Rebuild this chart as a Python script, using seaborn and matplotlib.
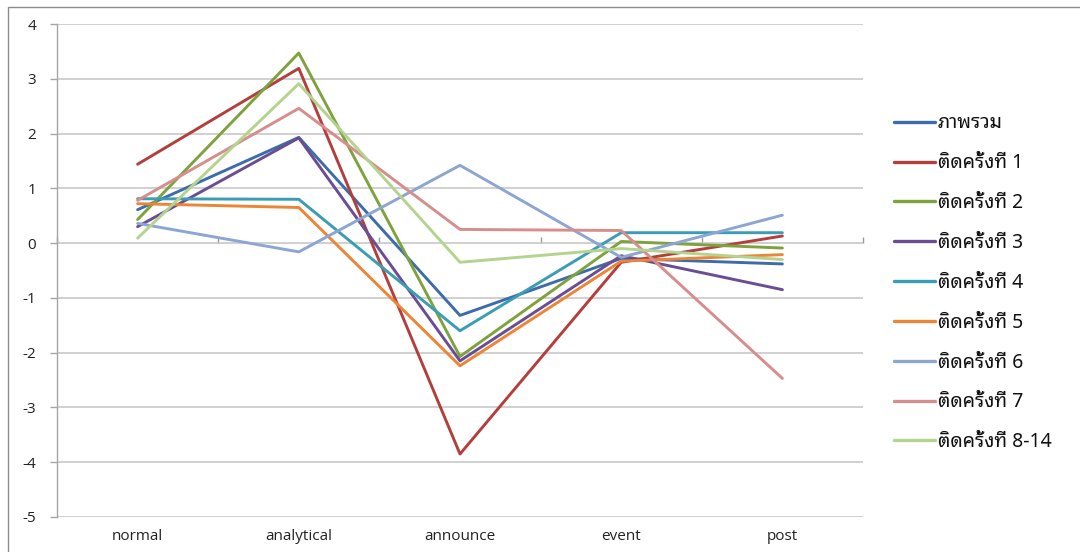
import numpy as np
import pandas as pd
import matplotlib
matplotlib.use("Agg")
import matplotlib.pyplot as plt
from matplotlib import font_manager as fm
from matplotlib.patches import Rectangle
import seaborn as sns

# Phases on the x axis
categories = ["normal", "analytical", "announce", "event", "post"]

# One series per group
overall = [0.61, 1.93, -1.32, -0.28, -0.38]
round_1 = [1.44, 3.19, -3.85, -0.35, 0.13]
round_2 = [0.43, 3.47, -2.07, 0.03, -0.09]
round_3 = [0.30, 1.92, -2.15, -0.23, -0.85]
round_4 = [0.81, 0.80, -1.60, 0.19, 0.19]
round_5 = [0.72, 0.65, -2.24, -0.33, -0.21]
round_6 = [0.36, -0.16, 1.42, -0.26, 0.51]
round_7 = [0.78, 2.46, 0.25, 0.23, -2.47]
round_8_14 = [0.09, 2.91, -0.35, -0.10, -0.30]

series_names = ["ภาพรวม", "ติดครั้งที่ 1", "ติดครั้งที่ 2", "ติดครั้งที่ 3",
                "ติดครั้งที่ 4", "ติดครั้งที่ 5", "ติดครั้งที่ 6", "ติดครั้งที่ 7",
                "ติดครั้งที่ 8-14"]
series_values = [overall, round_1, round_2, round_3, round_4, round_5,
                 round_6, round_7, round_8_14]
series_colors = ["#3E6CAA", "#B33F3C", "#7EA23E", "#6A4D92", "#3B9DB3",
                 "#EC8535", "#8DA6D1", "#D68E8C", "#B4D38E"]

y_ticks = [-5, -4, -3, -2, -1, 0, 1, 2, 3, 4]


def thai_family():
    """Return the name of an installed family that covers Thai script."""
    try:
        from fontTools.ttLib import TTFont
    except Exception:
        return None
    preferred = ["Tahoma", "Noto Sans Thai Looped", "Loma", "Garuda",
                 "Noto Sans Thai", "Norasi", "Kinnari", "Waree", "Umpush",
                 "Sawasdee"]
    found = {}
    for f in fm.fontManager.ttflist:
        if f.name in found:
            continue
        try:
            tt = TTFont(f.fname, fontNumber=0, lazy=True)
            cmap = tt.getBestCmap()
            if cmap and 0x0E20 in cmap and 0x0E31 in cmap and 0x0E48 in cmap:
                found[f.name] = f
        except Exception:
            continue
    for name in preferred:
        if name in found:
            return name
    return next(iter(found), None)


sns.set_theme(style="white")
plt.rcParams["font.family"] = ["Open Sans", "DejaVu Sans"]

thai = thai_family()
legend_family = [thai, "DejaVu Sans"] if thai else ["DejaVu Sans"]

rows = []
for name, vals in zip(series_names, series_values):
    for cat, v in zip(categories, vals):
        rows.append({"phase": cat, "value": v, "group": name})
df = pd.DataFrame(rows)

fig = plt.figure(figsize=(10.8, 5.52), dpi=100)
W, H = 1080, 552
ax = fig.add_axes([57 / W, 1 - 517 / H, (863 - 57) / W, (517 - 24) / H])

# Chart-area border
fig.patches.append(Rectangle((8 / W, -0.05), 1.2, 1 - 7 / H + 0.05,
                             transform=fig.transFigure, fill=False,
                             edgecolor="#8C8C8C", linewidth=1.0, zorder=0))

sns.lineplot(data=df, x="phase", y="value", hue="group",
             hue_order=series_names,
             palette=dict(zip(series_names, series_colors)),
             sort=False, linewidth=2.1, ax=ax, legend=True)

ax.set_xlim(-0.5, len(categories) - 0.5)
ax.set_ylim(-5, 4)
ax.set_yticks(y_ticks)
ax.set_yticklabels([str(t) for t in y_ticks])
ax.set_xlabel("")
ax.set_ylabel("")
ax.grid(axis="y", color="#C4C4C4", linewidth=1.1)
ax.grid(axis="x", visible=False)
ax.set_axisbelow(True)

for side in ["top", "right", "bottom"]:
    ax.spines[side].set_visible(False)
ax.spines["left"].set_color("#A6A6A6")
ax.spines["left"].set_linewidth(1.0)

ax.tick_params(axis="y", which="both", left=True, length=5, width=1,
               color="#A6A6A6", labelsize=11, labelcolor="#222222", pad=10)
ax.tick_params(axis="x", bottom=False, labelsize=11, labelcolor="#222222",
               pad=3)

# Category axis crossing at zero, with tick marks between categories
zero_frac = (0 - (-5)) / (4 - (-5))
sec = ax.secondary_xaxis(zero_frac)
sec.set_xticks(np.arange(-0.5, len(categories), 1.0))
sec.tick_params(axis="x", direction="out", length=4, width=1,
                color="#9A9A9A", labelbottom=False, labeltop=False)
sec.spines["bottom"].set_color("#9A9A9A")
sec.spines["bottom"].set_linewidth(1.1)
for s in ["top", "left", "right"]:
    sec.spines[s].set_visible(False)

handles, labels = ax.get_legend_handles_labels()
leg = ax.legend(handles, labels, loc="upper left",
                bbox_to_anchor=(876 / W, 1 - 96 / H),
                bbox_transform=fig.transFigure,
                frameon=False, handlelength=2.15, handletextpad=0.14,
                labelspacing=1.02,
                prop={"family": legend_family, "size": 14})
for line in leg.get_lines():
    line.set_linewidth(2.4)
for txt in leg.get_texts():
    txt.set_color("#111111")

fig.savefig("out.png", dpi=100, facecolor="white")
